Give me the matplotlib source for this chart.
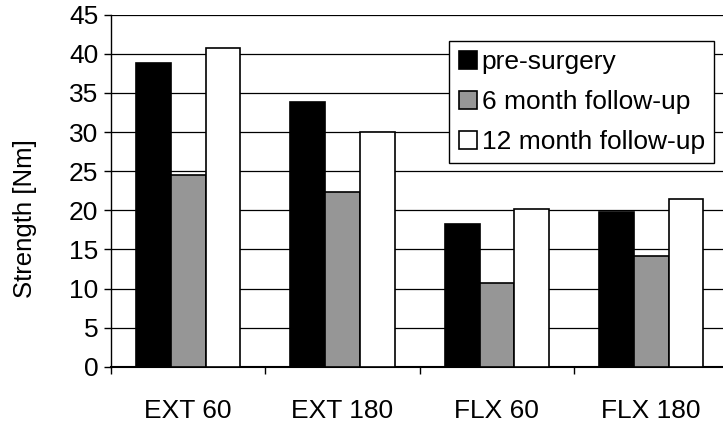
import numpy as np
import matplotlib.pyplot as plt
from matplotlib.ticker import FixedLocator, NullFormatter

plt.rcParams['font.family'] = ['Liberation Sans', 'DejaVu Sans']

categories = ["EXT 60", "EXT 180", "FLX 60", "FLX 180"]
series = ["pre-surgery", "6 month follow-up", "12 month follow-up"]
pre = [38.8, 33.8, 18.3, 19.8]
six = [24.5, 22.3, 10.7, 14.1]
twelve = [40.8, 30.0, 20.2, 21.5]
colors = ["#000000", "#969696", "#ffffff"]

fig = plt.figure(figsize=(7.23, 4.25), dpi=100)
ax = fig.add_axes([0.1535, 0.137, 0.854, 0.8284])

x = np.arange(len(categories))
w = 0.225
for i, (vals, lab, c) in enumerate(zip([pre, six, twelve], series, colors)):
    ax.bar(x + (i - 1) * w, vals, w, color=c, edgecolor="black",
           linewidth=1.2, label=lab, zorder=3)

ax.set_xlim(-0.5, 3.5)
ax.set_ylim(0, 45)
ax.set_yticks(range(0, 46, 5))
ax.yaxis.grid(True, color="black", linewidth=0.9, zorder=0)
ax.set_axisbelow(True)

ax.set_xticks(x)
ax.set_xticklabels(categories)
ax.xaxis.set_minor_locator(FixedLocator([-0.5, 0.5, 1.5, 2.5]))
ax.xaxis.set_minor_formatter(NullFormatter())
ax.tick_params(axis="x", which="major", length=0, pad=23, labelsize=19)
ax.tick_params(axis="x", which="minor", length=5, width=1, color="black")
ax.tick_params(axis="y", length=5, width=1, labelsize=19, pad=4)

for s in ["top", "right"]:
    ax.spines[s].set_visible(False)
ax.spines["left"].set_linewidth(1)
ax.spines["bottom"].set_linewidth(1.5)

ax.set_ylabel("Strength [Nm]", fontsize=18.5)
ax.yaxis.set_label_coords(-0.12, 0.422)

leg = ax.legend(loc="upper left", bbox_to_anchor=(0.548, 0.925), fontsize=19,
                frameon=True, fancybox=False, handlelength=0.68, handleheight=0.68,
                handletextpad=0.2, borderpad=0.35, labelspacing=0.6,
                borderaxespad=0)
leg.get_frame().set_edgecolor("black")
leg.get_frame().set_linewidth(1)
leg.get_frame().set_alpha(1)

fig.savefig("out.png", dpi=100)
